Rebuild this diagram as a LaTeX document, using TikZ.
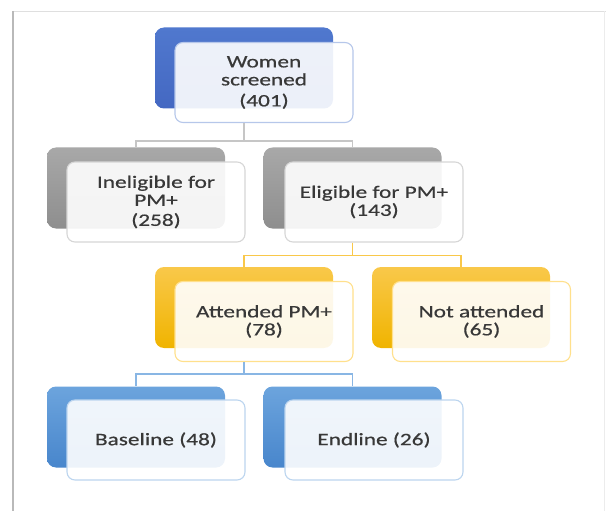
\documentclass[tikz,border=0pt]{standalone}
\usepackage{fontspec}
\usepackage{tikz}
\newfontfamily\boxfont{Carlito}[FakeStretch=1.33,FakeBold=0.6]
\definecolor{ink}{HTML}{383838}
\definecolor{topblue}{HTML}{5078CE}
\definecolor{topblued}{HTML}{4468C2}
\definecolor{topedge}{HTML}{B6C7EA}
\definecolor{greyback}{HTML}{A8A8A8}
\definecolor{greybackd}{HTML}{8E8E8E}
\definecolor{greyedge}{HTML}{D6D6D6}
\definecolor{goldback}{HTML}{F9C84A}
\definecolor{goldbackd}{HTML}{F0B400}
\definecolor{goldedge}{HTML}{FFE08C}
\definecolor{skyback}{HTML}{6CA4DD}
\definecolor{skybackd}{HTML}{4886CC}
\definecolor{skyedge}{HTML}{BCD5EF}

\begin{document}
\begin{tikzpicture}[x=1pt,y=-1pt,
    backbox/.style={minimum width=178pt,minimum height=81pt,inner sep=0pt,
      rounded corners=9pt},
    frontbox/.style={minimum width=178pt,minimum height=80pt,inner sep=2pt,
      rounded corners=8pt,fill=white,fill opacity=.9,text opacity=1,
      line width=1.1pt,align=center,text=ink,
      font=\boxfont\fontsize{17.5}{18}\selectfont},
    link/.style={line width=1.4pt}]
  \useasboundingbox (0,0) rectangle (606,511);
  % frame of the figure
  \draw[gray!25,line width=.8pt] (13,11) -- (606,11);
  \draw[gray!15,line width=.8pt] (604,11) -- (604,511);
  \draw[gray!55,line width=1.6pt] (13,11) -- (13,511);

  % level 1
  \node[backbox,top color=topblue,bottom color=topblued] (screened-b) at (244,68) {};
  \node[frontbox,draw=topedge] (screened) at (264,82.5)
    {Women\\screened\\[3pt](401)};

  % level 2
  \node[backbox,top color=greyback,bottom color=greybackd] (inelig-b) at (136,188) {};
  \node[frontbox,draw=greyedge] (inelig) at (156,202)
    {Ineligible for\\PM+\\[2pt](258)};
  \node[backbox,top color=greyback,bottom color=greybackd] (elig-b) at (352.5,188) {};
  \node[frontbox,draw=greyedge] (elig) at (374,202) {Eligible for PM+\\(143)};

  % level 3
  \node[backbox,top color=goldback,bottom color=goldbackd] (attended-b) at (244,307.5) {};
  \node[frontbox,draw=goldedge] (attended) at (264,321.5) {Attended PM+\\(78)};
  \node[backbox,top color=goldback,bottom color=goldbackd] (notatt-b) at (461,307.5) {};
  \node[frontbox,draw=goldedge] (notatt) at (481.5,321.5) {Not attended\\(65)};

  % level 4
  \node[backbox,top color=skyback,bottom color=skybackd] (baseline-b) at (136,427) {};
  \node[frontbox,draw=skyedge] (baseline) at (156,440) {Baseline (48)};
  \node[backbox,top color=skyback,bottom color=skybackd] (endline-b) at (352.5,427) {};
  \node[frontbox,draw=skyedge] (endline) at (374,440) {Endline (26)};

  % connectors
  \draw[link,gray!45] (screened-b.south |- screened.south) -- ++(0,18) -| (inelig-b.north);
  \draw[link,gray!45] (screened-b.south |- screened.south) -- ++(0,18) -| (elig-b.north);
  \draw[link,goldback] (elig-b.south |- elig.south) -- ++(0,13) -| (attended-b.north);
  \draw[link,goldback] (elig-b.south |- elig.south) -- ++(0,13) -| (notatt-b.north);
  \draw[link,skyback!80] (attended-b.south |- attended.south) -- ++(0,12) -| (baseline-b.north);
  \draw[link,skyback!80] (attended-b.south |- attended.south) -- ++(0,12) -| (endline-b.north);
\end{tikzpicture}
\end{document}
